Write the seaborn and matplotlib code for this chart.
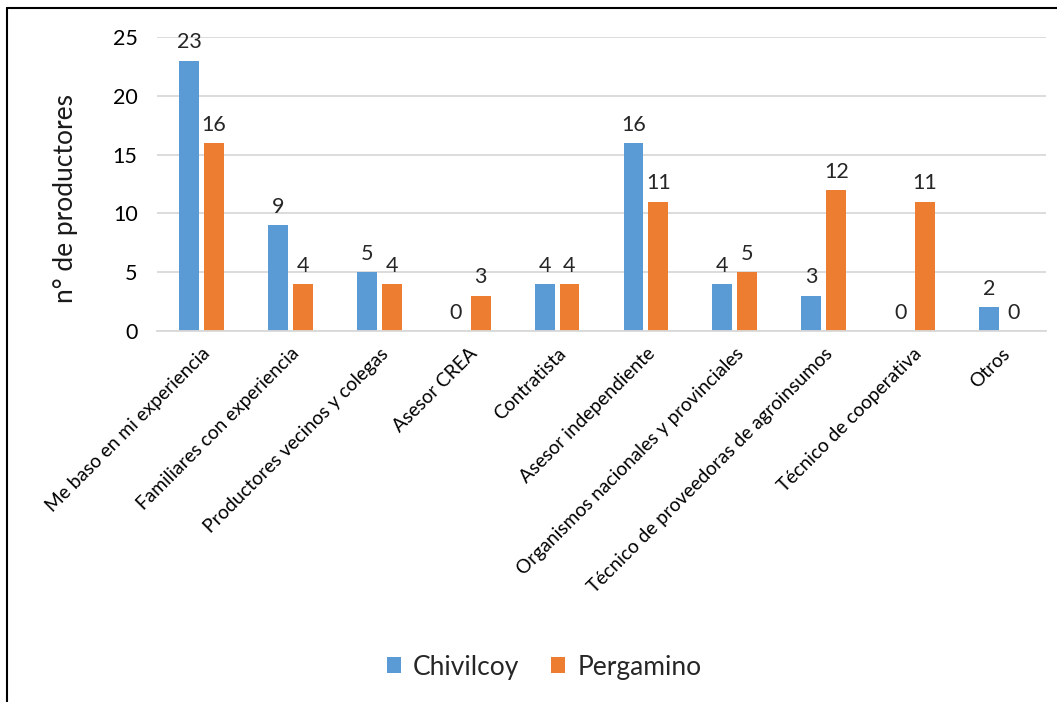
import matplotlib
matplotlib.use("Agg")
import matplotlib.pyplot as plt
import seaborn as sns
import pandas as pd
from matplotlib.patches import Patch
from matplotlib.lines import Line2D

categories = ["Me baso en mi experiencia", "Familiares con experiencia",
              "Productores vecinos y colegas", "Asesor CREA", "Contratista",
              "Asesor independiente", "Organismos nacionales y provinciales",
              "Técnico de proveedoras de agroinsumos", "Técnico de cooperativa", "Otros"]
chivilcoy = [23, 9, 5, 0, 4, 16, 4, 3, 0, 2]
pergamino = [16, 4, 4, 3, 4, 11, 5, 12, 11, 0]
series = ["Chivilcoy", "Pergamino"]
colors = ["#5B9BD5", "#ED7D31"]
yticks = [0, 5, 10, 15, 20, 25]

sns.set_theme(style="white")
plt.rcParams['font.family'] = ['Lato', 'DejaVu Sans']

df = pd.DataFrame({
    "cat": categories * 2,
    "val": chivilcoy + pergamino,
    "serie": [series[0]] * len(categories) + [series[1]] * len(categories),
})

fig = plt.figure(figsize=(10.57, 7.02), dpi=100)
ax = fig.add_axes([157/1057, 1-331/702, (1046-157)/1057, (331-37)/702])
sns.barplot(data=df, x="cat", y="val", hue="serie", palette=colors, width=0.56,
            gap=0.2, ax=ax, legend=False, saturation=1, linewidth=0)

ax.set_ylim(0, 25)
ax.set_yticks(yticks)
ax.set_xlim(-0.5, len(categories) - 0.5)
ax.yaxis.grid(True, color="#d9d9d9", linewidth=1.3)
ax.set_axisbelow(True)
for s in ["top", "right", "left"]:
    ax.spines[s].set_visible(False)
ax.spines["bottom"].set_color("#d9d9d9")
ax.spines["bottom"].set_linewidth(1.3)
ax.tick_params(axis="both", length=0, colors="black")
ax.tick_params(axis="y", labelsize=15.5, pad=14)
ax.set_xticks(range(len(categories)))
ax.set_xticklabels(categories, rotation=45, ha="right", rotation_mode="anchor", fontsize=13.8)
ax.tick_params(axis="x", pad=10)
ax.set_xlabel("")
ax.set_ylabel("n° de productores", fontsize=19, color="#1a1a1a")
ax.yaxis.set_label_coords(-0.089, 0.45)

for cont in ax.containers:
    ax.bar_label(cont, fmt="%d", padding=6, fontsize=15.5)

handles = [Patch(facecolor=c, edgecolor="none") for c in colors]
fig.legend(handles, series, loc="center", bbox_to_anchor=(544/1057, 1-667/702), ncol=2,
           frameon=False, fontsize=19, handlelength=0.55, handleheight=0.55,
           columnspacing=1.2, handletextpad=0.45)

fig.add_artist(Line2D([7/1057, 7/1057], [0, 1-8/702], transform=fig.transFigure,
                      color="black", linewidth=1.5))
fig.add_artist(Line2D([7/1057, 1], [1-8/702, 1-8/702], transform=fig.transFigure,
                      color="black", linewidth=1.5))

fig.savefig("out.png", dpi=100, facecolor="white")
